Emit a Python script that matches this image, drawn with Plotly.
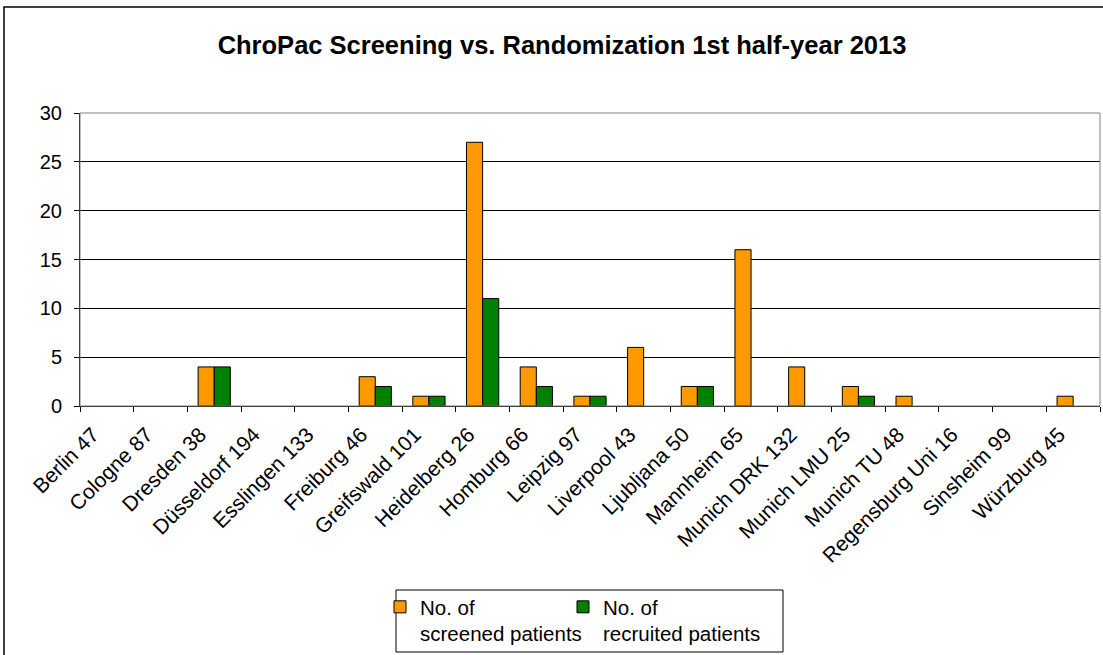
import plotly.graph_objects as go

sites = ["Berlin 47", "Cologne 87", "Dresden 38", "Düsseldorf 194", "Esslingen 133",
         "Freiburg 46", "Greifswald 101", "Heidelberg 26", "Homburg 66", "Leipzig 97",
         "Liverpool 43", "Ljubljana 50", "Mannheim 65", "Munich DRK 132", "Munich LMU 25",
         "Munich TU 48", "Regensburg Uni 16", "Sinsheim 99", "Würzburg 45"]
screened = [0, 0, 4, 0, 0, 3, 1, 27, 4, 1, 6, 2, 16, 4, 2, 1, 0, 0, 1]
recruited = [0, 0, 4, 0, 0, 2, 1, 11, 2, 1, 0, 2, 0, 0, 1, 0, 0, 0, 0]
y_ticks = [0, 5, 10, 15, 20, 25, 30]

FONT = "Arial, Liberation Sans, sans-serif"

fig = go.Figure()
fig.add_trace(go.Bar(x=sites, y=[v if v else None for v in screened],
                     name="No. of<br>screened patients", legend="legend",
                     marker=dict(color="#FF9900", line=dict(color="black", width=1))))
fig.add_trace(go.Bar(x=sites, y=[v if v else None for v in recruited],
                     name="No. of<br>recruited patients", legend="legend2",
                     marker=dict(color="#008000", line=dict(color="black", width=1))))

W, H = 1103, 655
L, R, T, B = 80, 3, 113, 249
pw = W - L - R
ph = H - T - B

def px(x):
    return (x - L) / pw

def py(y):
    return (H - B - y) / ph

leg_common = dict(orientation="h", xanchor="left", yanchor="top",
                  borderwidth=0, bgcolor="rgba(0,0,0,0)",
                  font=dict(size=20.5, family=FONT), itemwidth=30, valign="top")

fig.update_layout(
    width=W, height=H,
    margin=dict(l=L, r=R, t=T, b=B, autoexpand=False),
    paper_bgcolor="white", plot_bgcolor="white",
    font=dict(family=FONT, size=20, color="black"),
    title=dict(text="<b>ChroPac Screening vs. Randomization 1st half-year 2013</b>",
               x=562 / W, xref="container", xanchor="center", y=1 - 45 / H, yanchor="middle",
               font=dict(size=25.5, family=FONT, color="black")),
    barmode="group", bargap=0.4, bargroupgap=0,
    showlegend=True,
    legend=dict(x=px(380), y=py(587), **leg_common),
    legend2=dict(x=px(563), y=py(587), **leg_common),
    xaxis=dict(type="category", tickangle=-45, showline=True, linecolor="black",
               linewidth=1, ticks="outside", ticklen=5, tickcolor="black",
               tickson="boundaries", showgrid=False, tickfont=dict(size=21),
               ticklabelstandoff=7, ticklabelshift=-14),
    yaxis=dict(range=[0, 30], tickvals=y_ticks, showline=True, linecolor="black",
               linewidth=1, ticks="outside", ticklen=5, tickcolor="black",
               showgrid=True, gridcolor="black", gridwidth=1, zeroline=False,
               tickfont=dict(size=20), ticklabelstandoff=8),
    shapes=[
        dict(type="rect", xref="paper", yref="paper", x0=0, x1=1, y0=0, y1=1,
             line=dict(color="#808080", width=1), layer="above"),
        dict(type="rect", xref="paper", yref="paper", x0=px(4), x1=px(1110),
             y0=py(700), y1=py(7), line=dict(color="black", width=1.5), layer="below"),
        dict(type="rect", xref="paper", yref="paper", x0=px(396), x1=px(783),
             y0=py(652), y1=py(590), line=dict(color="black", width=1), layer="below"),
    ],
)

fig.write_html("out.html", post_script="document.body.style.margin='0';",
               config={"displayModeBar": False})
